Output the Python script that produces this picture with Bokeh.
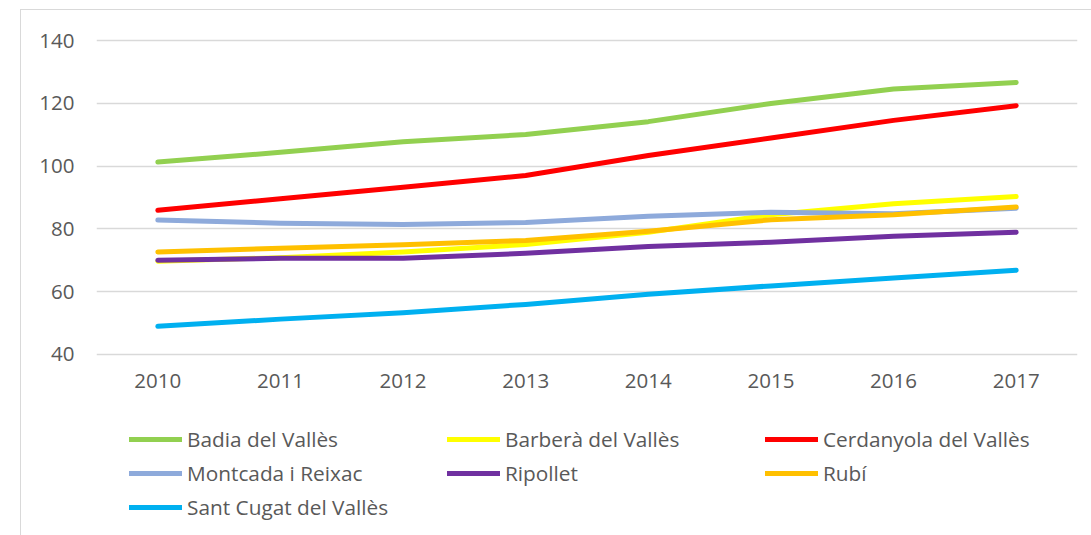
from bokeh.plotting import figure
from bokeh.models import FactorRange, Range1d, FixedTicker, Legend, LegendItem
from bokeh.layouts import column
from bokeh.embed import file_html
from bokeh.resources import INLINE

years = ["2010", "2011", "2012", "2013", "2014", "2015", "2016", "2017"]
y_ticks = [40, 60, 80, 100, 120, 140]

badia = [101.3, 104.4, 107.8, 110.1, 114.2, 120.0, 124.6, 126.7]
barbera = [69.7, 70.8, 72.6, 75.0, 78.9, 84.5, 88.0, 90.3]
cerdanyola = [85.9, 89.6, 93.3, 97.0, 103.4, 109.0, 114.6, 119.3]
montcada = [82.8, 81.8, 81.4, 82.0, 84.0, 85.3, 84.8, 86.6]
ripollet = [70.0, 70.6, 70.6, 72.2, 74.4, 75.7, 77.6, 78.9]
rubi = [72.6, 73.8, 74.9, 76.3, 79.2, 82.9, 84.5, 87.0]
santcugat = [48.9, 51.2, 53.2, 55.9, 59.1, 61.8, 64.3, 66.8]

series = [
    ("Badia del Vallès", badia, "#92d050"),
    ("Barberà del Vallès", barbera, "#ffff00"),
    ("Cerdanyola del Vallès", cerdanyola, "#ff0000"),
    ("Montcada i Reixac", montcada, "#8eaadb"),
    ("Ripollet", ripollet, "#7030a0"),
    ("Rubí", rubi, "#ffc000"),
    ("Sant Cugat del Vallès", santcugat, "#00b0f0"),
]

FONT = "Open Sans"
TXT = "#595959"

# main chart
p = figure(
    width=1071, height=400,
    x_range=FactorRange(*years, range_padding=0),
    y_range=Range1d(38, 142),
    output_backend="svg", toolbar_location=None,
    min_border_left=75, min_border_right=15,
    min_border_top=24, min_border_bottom=50,
)
p.outline_line_color = None
p.background_fill_color = "white"
p.border_fill_color = "white"

p.xgrid.grid_line_color = None
p.ygrid.grid_line_color = "#d9d9d9"
p.ygrid.grid_line_width = 1.3
p.yaxis.ticker = FixedTicker(ticks=y_ticks)

for ax in (p.xaxis, p.yaxis):
    ax.axis_line_color = None
    ax.major_tick_line_color = None
    ax.minor_tick_line_color = None
    ax.major_tick_in = 0
    ax.major_tick_out = 0
    ax.major_label_text_font = FONT
    ax.major_label_text_font_size = "20.5px"
    ax.major_label_text_color = TXT
p.yaxis.major_label_standoff = 22
p.xaxis.major_label_standoff = 13

for name, vals, col in series:
    p.line(years, vals, line_color=col, line_width=5,
           line_cap="round", line_join="round")

# legend panel
q = figure(
    width=1071, height=126,
    x_range=FactorRange(*years, range_padding=0),
    y_range=Range1d(1000, 1001),
    output_backend="svg", toolbar_location=None,
    min_border_left=0, min_border_right=0,
    min_border_top=0, min_border_bottom=0,
)
q.outline_line_color = None
q.axis.visible = False
q.grid.grid_line_color = None
q.background_fill_color = "white"
q.border_fill_color = "white"

items = []
for name, vals, col in series:
    r = q.line(years, vals, line_color=col, line_width=5, line_cap="round")
    items.append(LegendItem(label=name, renderers=[r]))

legend = Legend(
    items=items,
    orientation="horizontal", ncols=3,
    location=(33, 12),
    glyph_width=53, glyph_height=34, label_height=34, label_width=260,
    label_standoff=5, spacing=0, padding=0, margin=0,
    label_text_font=FONT, label_text_font_size="20.8px", label_text_color=TXT,
    border_line_color=None, background_fill_alpha=0,
)
q.add_layout(legend, "center")

layout = column(p, q, spacing=0)
layout.margin = (9, 0, 0, 20)
layout.styles = {"border-left": "1px solid #d9d9d9", "border-top": "1px solid #d9d9d9"}

open("out.html", "w").write(file_html(layout, INLINE))
